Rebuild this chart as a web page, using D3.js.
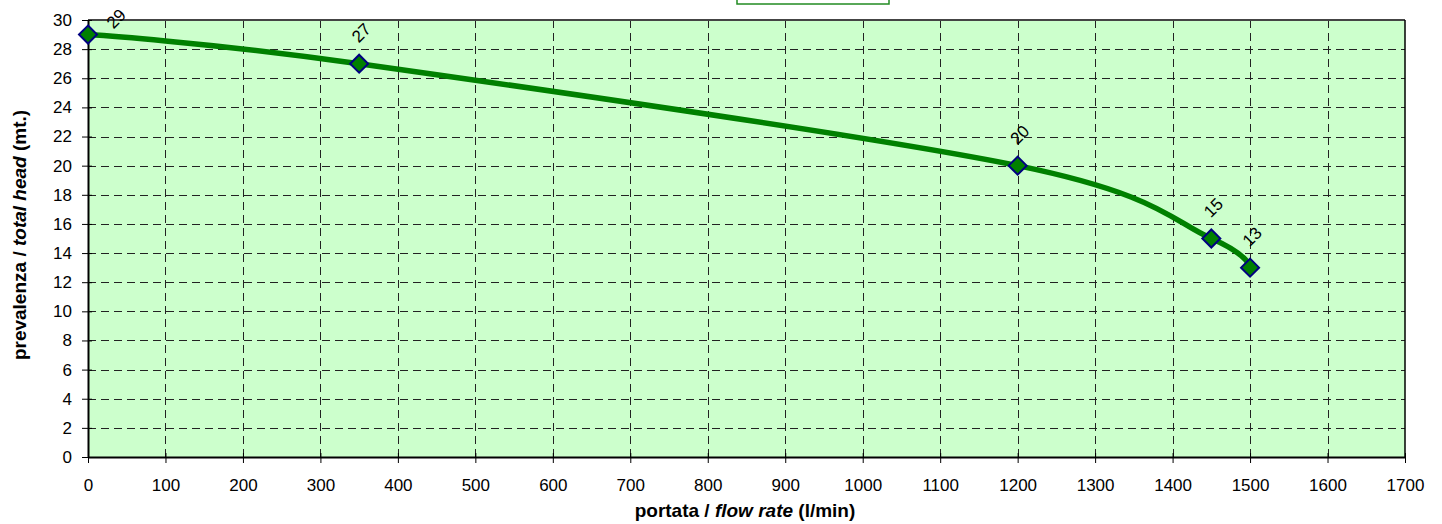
<!DOCTYPE html>
<html>
<head>
<meta charset="utf-8">
<script src="https://cdn.jsdelivr.net/npm/d3@7"></script>
<style>
  body { margin: 0; background: #fff; }
  svg text { font-family: "Liberation Sans", Arial, sans-serif; }
</style>
</head>
<body>
<div id="chart"></div>
<script>
// curve points
var flow = [0, 350, 1200, 1450, 1500];
var head = [29, 27, 20, 15, 13];
var xTicks = d3.range(0, 1701, 100);
var yTicks = d3.range(0, 31, 2);

var W = 1442, H = 524;
var mLeft = 88, mRight = 1405, mTop = 20, mBottom = 457;

var svg = d3.select("#chart").append("svg")
    .attr("width", W)
    .attr("height", H);

var x = d3.scaleLinear().domain([0, 1700]).range([mLeft, mRight]);
var y = d3.scaleLinear().domain([0, 30]).range([mBottom, mTop]);

// plot background
svg.append("rect")
    .attr("x", mLeft).attr("y", mTop)
    .attr("width", mRight - mLeft).attr("height", mBottom - mTop)
    .attr("fill", "#ccffcc");

// the cut-off legend box at the top
svg.append("rect")
    .attr("x", 737).attr("y", -10)
    .attr("width", 152).attr("height", 14)
    .attr("fill", "#fff")
    .attr("stroke", "#228b22").attr("stroke-width", 1.5);

// grid
svg.append("g").selectAll("line")
    .data(yTicks.filter(d => d > 0 && d < 30))
    .enter().append("line")
    .attr("x1", mLeft).attr("x2", mRight)
    .attr("y1", d => Math.round(y(d)) + 0.5).attr("y2", d => Math.round(y(d)) + 0.5)
    .attr("stroke", "#222").attr("stroke-dasharray", "8,5");

svg.append("g").selectAll("line")
    .data(xTicks.filter(d => d > 0 && d < 1700))
    .enter().append("line")
    .attr("y1", mTop).attr("y2", mBottom)
    .attr("x1", d => Math.round(x(d)) + 0.5).attr("x2", d => Math.round(x(d)) + 0.5)
    .attr("stroke", "#222").attr("stroke-dasharray", "8,5");

// top and right borders
svg.append("line")
    .attr("x1", mLeft).attr("x2", mRight).attr("y1", mTop).attr("y2", mTop)
    .attr("stroke", "#444").attr("stroke-width", 2);
svg.append("line")
    .attr("x1", mRight).attr("x2", mRight).attr("y1", mTop).attr("y2", mBottom)
    .attr("stroke", "#000").attr("stroke-width", 1.5);

// axes
var xAxis = svg.append("g")
    .attr("transform", "translate(0," + mBottom + ")")
    .call(d3.axisBottom(x).tickValues(xTicks).tickFormat(d3.format("d"))
        .tickSize(6).tickSizeOuter(0).tickPadding(16));
var yAxis = svg.append("g")
    .attr("transform", "translate(" + mLeft + ",0)")
    .call(d3.axisLeft(y).tickValues(yTicks).tickFormat(d3.format("d"))
        .tickSize(6).tickSizeOuter(0).tickPadding(10));

[xAxis, yAxis].forEach(function(a) {
    a.select(".domain").attr("stroke", "#000").attr("stroke-width", 2);
    a.selectAll(".tick line").attr("stroke", "#000");
    a.selectAll(".tick text").attr("fill", "#000")
        .style("font-size", "17px")
        .style("font-family", "'Liberation Sans', Arial, sans-serif");
});
// ticks cross the axis on the inside too
xAxis.selectAll(".tick line").attr("y1", -4);
yAxis.selectAll(".tick line").attr("x1", 4);

// curve
var pts = flow.map((f, i) => ({ f: f, h: head[i] }));
var line = d3.line()
    .x(d => x(d.f))
    .y(d => y(d.h))
    .curve(d3.curveCardinal.tension(0));

svg.append("path")
    .datum(pts)
    .attr("d", line)
    .attr("fill", "none")
    .attr("stroke", "#008000")
    .attr("stroke-width", 5.5);

// markers
svg.append("g").selectAll("path")
    .data(pts)
    .enter().append("path")
    .attr("d", "M0,-9 L9,0 L0,9 L-9,0 Z")
    .attr("transform", d => "translate(" + x(d.f) + "," + y(d.h) + ")")
    .attr("fill", "#008000")
    .attr("stroke", "#000080")
    .attr("stroke-width", 2);

// value labels, rotated; pushed sideways when they would leave the top
function labelPos(d) {
    var cx = x(d.f) + 2, cy = y(d.h) - 31;
    if (cy < 12) { cx = x(d.f) + 28; cy = y(d.h) - 16; }
    return "translate(" + cx + "," + cy + ") rotate(-45)";
}
svg.append("g").selectAll("text")
    .data(pts)
    .enter().append("text")
    .attr("transform", labelPos)
    .attr("text-anchor", "middle")
    .attr("dy", "0.35em")
    .style("font-size", "17px")
    .attr("fill", "#000")
    .text(d => d.h);

// axis titles
var xt = svg.append("text")
    .attr("x", 745).attr("y", 517)
    .attr("text-anchor", "middle")
    .style("font-size", "19px").attr("font-weight", "bold");
xt.append("tspan").text("portata / ");
xt.append("tspan").attr("font-style", "italic").text("flow rate");
xt.append("tspan").text(" (l/min)");

var yt = svg.append("text")
    .attr("transform", "translate(26,235) rotate(-90)")
    .attr("text-anchor", "middle")
    .style("font-size", "19px").attr("font-weight", "bold");
yt.append("tspan").text("prevalenza / ");
yt.append("tspan").attr("font-style", "italic").text("total head");
yt.append("tspan").text(" (mt.)");
</script>
</body>
</html>
